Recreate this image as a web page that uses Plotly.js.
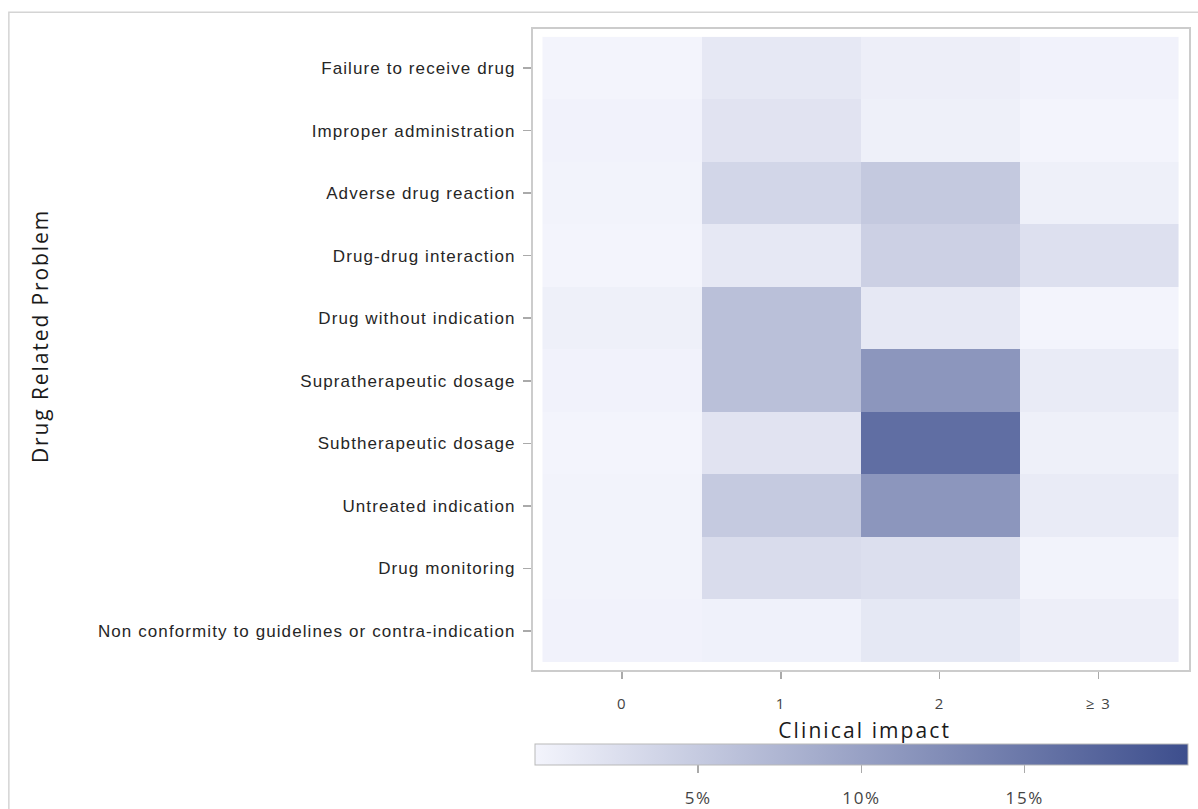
<!DOCTYPE html>
<html>
<head>
<meta charset="utf-8">
<script src="https://cdn.plot.ly/plotly-3.0.1.min.js"></script>
<style>
  html, body { margin: 0; padding: 0; background: #fff; }
  #chart { width: 1198px; height: 809px; }
  .yaxislayer-above text { letter-spacing: 1.1px; }
  .xaxislayer-above text { letter-spacing: 1.5px; }
  .colorbar text { letter-spacing: 1.6px; }
  .annotation[data-index="0"] text { letter-spacing: 1.9px; }
  .annotation[data-index="1"] text { letter-spacing: 2.1px; }
</style>
</head>
<body>
<div id="chart"></div>
<script>
// Drug related problems (top to bottom)
const problems = [
  "Failure to receive drug",
  "Improper administration",
  "Adverse drug reaction",
  "Drug-drug interaction",
  "Drug without indication",
  "Supratherapeutic dosage",
  "Subtherapeutic dosage",
  "Untreated indication",
  "Drug monitoring",
  "Non conformity to guidelines or contra-indication"
];
// Clinical impact categories
const impacts = ["0", "1", "2", "\u2265 3"];

// Percentages per clinical impact column, one value per problem (same order as problems)
const impact0 = [0.0, 0.2, 0.1, 0.0, 0.5, 0.2, 0.0, 0.1, 0.1, 0.2];
const impact1 = [1.4, 2.0, 3.6, 1.4, 6.3, 6.3, 2.0, 5.1, 2.9, 0.4];
const impact2 = [0.7, 0.5, 5.2, 4.3, 1.4, 11.3, 16.1, 11.3, 2.5, 1.5];
const impact3 = [0.2, 0.0, 0.5, 2.4, 0.0, 1.1, 0.5, 1.1, 0.1, 0.7];

// Colorbar ticks
const cbTickVals = [5, 10, 15];
const cbTickText = ["5%", "10%", "15%"];

const columns = [impact0, impact1, impact2, impact3];
const z = problems.map((p, i) => columns.map(col => col[i]));

const trace = {
  type: "heatmap",
  x: impacts,
  y: problems,
  z: z,
  zmin: 0,
  zmax: 20,
  colorscale: [[0, "#f3f4fc"], [1, "#3d4e8d"]],
  xgap: 0,
  ygap: 0,
  hovertemplate: "%{y}<br>Clinical impact %{x}: %{z:.1f}%<extra></extra>",
  colorbar: {
    orientation: "h",
    x: 0.003,
    xanchor: "left",
    y: -0.116,
    yanchor: "top",
    len: 0.995,
    lenmode: "fraction",
    thickness: 21,
    thicknessmode: "pixels",
    xpad: 0,
    ypad: 0,
    outlinewidth: 1,
    outlinecolor: "#b9b9b9",
    tickvals: cbTickVals,
    ticktext: cbTickText,
    ticks: "outside",
    ticklen: 8,
    tickwidth: 1.5,
    tickcolor: "#aaaaaa",
    tickfont: { family: "Open Sans, sans-serif", size: 17, color: "#444" }
  }
};

const layout = {
  width: 1198,
  height: 809,
  margin: { l: 533, r: 9, t: 29, b: 134 },
  paper_bgcolor: "#ffffff",
  plot_bgcolor: "#ffffff",
  showlegend: false,
  font: { family: "Liberation Sans, Arial, sans-serif", color: "#333" },
  xaxis: {
    type: "category",
    categoryarray: impacts,
    range: [-0.56, 3.569],
    showgrid: false,
    zeroline: false,
    showline: true,
    mirror: true,
    linecolor: "#cccccc",
    linewidth: 2,
    ticks: "outside",
    ticklen: 7,
    tickwidth: 1.5,
    tickcolor: "#aaaaaa",
    ticklabelstandoff: 12,
    tickfont: { family: "Open Sans, sans-serif", size: 15, color: "#444" },
    fixedrange: true
  },
  yaxis: {
    type: "category",
    categoryarray: problems,
    range: [9.627, -0.627],
    showgrid: false,
    zeroline: false,
    showline: true,
    mirror: true,
    linecolor: "#cccccc",
    linewidth: 2,
    ticks: "outside",
    ticklen: 8,
    tickwidth: 1.5,
    tickcolor: "#aaaaaa",
    ticklabelstandoff: 4,
    tickfont: { family: "Liberation Sans, Arial, sans-serif", size: 17, color: "#262626" },
    fixedrange: true
  },
  annotations: [
    {
      text: "Drug Related Problem",
      xref: "paper", yref: "paper",
      x: -0.7515, y: 0.521,
      xanchor: "center", yanchor: "middle",
      textangle: -90,
      showarrow: false,
      font: { family: "Open Sans, sans-serif", size: 21, color: "#1a1a1a" }
    },
    {
      text: "Clinical impact",
      xref: "paper", yref: "paper",
      x: 0.506, y: -0.0935,
      xanchor: "center", yanchor: "middle",
      showarrow: false,
      font: { family: "Open Sans, sans-serif", size: 21, color: "#1a1a1a" }
    }
  ],
  shapes: [
    {
      type: "rect",
      xref: "paper", yref: "paper",
      x0: -0.799, x1: 1.02, y0: -0.22, y1: 1.026,
      line: { color: "#d4d4d4", width: 1.5 },
      fillcolor: "rgba(0,0,0,0)",
      layer: "below"
    }
  ]
};

Plotly.newPlot("chart", [trace], layout, { displayModeBar: false, staticPlot: true }).then(function (gd) {
  // push colorbar tick labels a little further below the bar, as in the reference
  gd.querySelectorAll(".colorbar .cbaxis text").forEach(function (t) {
    const y = parseFloat(t.getAttribute("y") || "0");
    t.setAttribute("y", String(y + 11));
    t.querySelectorAll("tspan[y]").forEach(function (s) {
      s.setAttribute("y", String(parseFloat(s.getAttribute("y")) + 11));
    });
  });
});
</script>
</body>
</html>
